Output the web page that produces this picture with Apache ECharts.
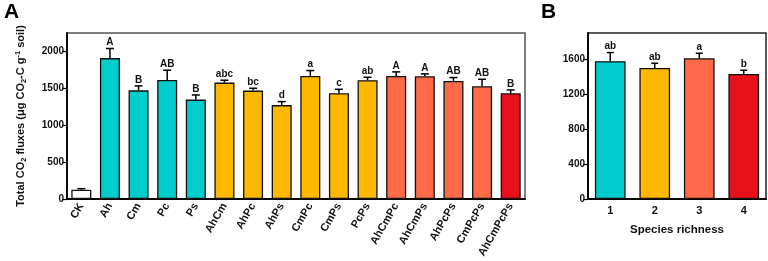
<!DOCTYPE html>
<html>
<head>
<meta charset="utf-8">
<script src="https://cdn.jsdelivr.net/npm/echarts@6/dist/echarts.min.js"></script>
<style>
  html, body { margin: 0; padding: 0; background: #fff; }
  #chart { width: 768px; height: 261px; }
</style>
</head>
<body>
<div id="chart"></div>
<script>
// Panel A: single-species and mixtures
const treatments = ['CK', 'Ah', 'Cm', 'Pc', 'Ps', 'AhCm', 'AhPc', 'AhPs', 'CmPc', 'CmPs', 'PcPs',
  'AhCmPc', 'AhCmPs', 'AhPcPs', 'CmPcPs', 'AhCmPcPs'];
const fluxMean = [127, 1910, 1473, 1614, 1347, 1578, 1469, 1273, 1668, 1433, 1610, 1668, 1664, 1600, 1528, 1433];
const fluxSE = [13, 130, 60, 132, 63, 32, 32, 47, 73, 54, 40, 55, 32, 46, 95, 45];
const fluxLetters = ['', 'A', 'B', 'AB', 'B', 'abc', 'bc', 'd', 'a', 'c', 'ab', 'A', 'A', 'AB', 'AB', 'B'];
const treatmentRichness = [0, 1, 1, 1, 1, 2, 2, 2, 2, 2, 2, 3, 3, 3, 3, 4];

// Panel B: by species richness
const richnessLevels = ['1', '2', '3', '4'];
const richnessMean = [1577, 1500, 1611, 1432];
const richnessSE = [99, 54, 57, 42];
const richnessLetters = ['ab', 'ab', 'a', 'b'];

const yTicksA = { min: 0, max: 2250, interval: 500 };
const yTicksB = { min: 0, max: 1900, interval: 400 };

const palette = ['#ffffff', '#00cccc', '#ffb800', '#ff6a48', '#e8111b'];
const FONT = '"Liberation Sans", Arial, sans-serif';

function errorBars(letters, capHalf) {
  return function (params, api) {
    const i = api.value(0);
    const m = api.value(1);
    const e = api.value(2);
    const base = api.coord([i, m]);
    const top = api.coord([i, m + e]);
    const lineStyle = { stroke: '#000', lineWidth: 1.5 };
    return {
      type: 'group',
      children: [
        { type: 'line', shape: { x1: base[0], y1: base[1], x2: top[0], y2: top[1] }, style: lineStyle },
        { type: 'line', shape: { x1: top[0] - capHalf, y1: top[1], x2: top[0] + capHalf, y2: top[1] }, style: lineStyle },
        {
          type: 'text', x: top[0], y: top[1] - 1,
          style: {
            text: letters[params.dataIndex], align: 'center', verticalAlign: 'bottom',
            font: 'bold 10px ' + FONT, fill: '#111'
          }
        }
      ]
    };
  };
}

const axisLabelStyle = { color: '#111', fontWeight: 'bold', fontFamily: FONT };
const plain = (v) => String(v);

const chart = echarts.init(document.getElementById('chart'));
chart.setOption({
  animation: false,
  graphic: [
    { type: 'text', left: 4, top: 2, style: { text: 'A', font: 'bold 21px ' + FONT, fill: '#000' } },
    { type: 'text', left: 541, top: 2, style: { text: 'B', font: 'bold 21px ' + FONT, fill: '#000' } }
  ],
  grid: [
    { left: 67, right: 243, top: 33, bottom: 62, show: true, borderColor: '#555', borderWidth: 1.5, backgroundColor: 'transparent' },
    { left: 588, right: 2, top: 33, bottom: 62, show: true, borderColor: '#222', borderWidth: 1.5, backgroundColor: 'transparent' }
  ],
  xAxis: [
    {
      type: 'category', gridIndex: 0, data: treatments,
      axisLine: { lineStyle: { color: '#000', width: 1.8 } },
      axisTick: { alignWithLabel: true, length: 4, lineStyle: { color: '#000', width: 1.2 } },
      axisLabel: Object.assign({ rotate: 60, fontSize: 11, margin: 5 }, axisLabelStyle)
    },
    {
      type: 'category', gridIndex: 1, data: richnessLevels,
      name: 'Species richness', nameLocation: 'middle', nameGap: 25,
      nameTextStyle: { fontSize: 11.5, fontWeight: 'bold', color: '#111', fontFamily: FONT },
      axisLine: { lineStyle: { color: '#000', width: 1.8 } },
      axisTick: { alignWithLabel: true, length: 4, lineStyle: { color: '#000', width: 1.2 } },
      axisLabel: Object.assign({ fontSize: 11, margin: 6 }, axisLabelStyle)
    }
  ],
  yAxis: [
    {
      type: 'value', gridIndex: 0, min: yTicksA.min, max: yTicksA.max, interval: yTicksA.interval,
      name: 'Total CO{sub|2} fluxes (μg CO{sub|2}-C g{sup|-1} soil)',
      nameLocation: 'middle', nameRotate: 90, nameGap: 39,
      nameTextStyle: {
        fontSize: 11, fontWeight: 'bold', color: '#111', fontFamily: FONT, lineHeight: 14,
        rich: {
          sub: { fontSize: 7.5, fontWeight: 'bold', fontFamily: FONT, color: '#111', verticalAlign: 'bottom', lineHeight: 14, padding: [5, 0, 0, 0] },
          sup: { fontSize: 7.5, fontWeight: 'bold', fontFamily: FONT, color: '#111', verticalAlign: 'top', lineHeight: 14, padding: [0, 0, 5, 0] }
        }
      },
      splitLine: { show: false },
      axisLine: { show: true, lineStyle: { color: '#000', width: 1.8 } },
      axisTick: { show: true, length: 5, lineStyle: { color: '#000', width: 1.2 } },
      axisLabel: Object.assign({ fontSize: 10, margin: 3, showMaxLabel: false, formatter: plain }, axisLabelStyle)
    },
    {
      type: 'value', gridIndex: 1, min: yTicksB.min, max: yTicksB.max, interval: yTicksB.interval,
      splitLine: { show: false },
      axisLine: { show: true, lineStyle: { color: '#000', width: 1.8 } },
      axisTick: { show: true, length: 5, lineStyle: { color: '#000', width: 1.2 } },
      axisLabel: Object.assign({ fontSize: 10, margin: 3, showMaxLabel: false, formatter: plain }, axisLabelStyle)
    }
  ],
  series: [
    {
      type: 'bar', xAxisIndex: 0, yAxisIndex: 0, barWidth: '70%',
      data: fluxMean.map((v, i) => ({
        value: v,
        itemStyle: { color: palette[treatmentRichness[i]], borderColor: '#111', borderWidth: 1.3 }
      }))
    },
    {
      type: 'custom', xAxisIndex: 0, yAxisIndex: 0, z: 5,
      renderItem: errorBars(fluxLetters, 4),
      data: fluxMean.map((v, i) => [i, v, fluxSE[i]])
    },
    {
      type: 'bar', xAxisIndex: 1, yAxisIndex: 1, barWidth: '69%',
      data: richnessMean.map((v, i) => ({
        value: v,
        itemStyle: { color: palette[i + 1], borderColor: '#111', borderWidth: 1.3 }
      }))
    },
    {
      type: 'custom', xAxisIndex: 1, yAxisIndex: 1, z: 5,
      renderItem: errorBars(richnessLetters, 3.5),
      data: richnessMean.map((v, i) => [i, v, richnessSE[i]])
    }
  ]
});
</script>
</body>
</html>
